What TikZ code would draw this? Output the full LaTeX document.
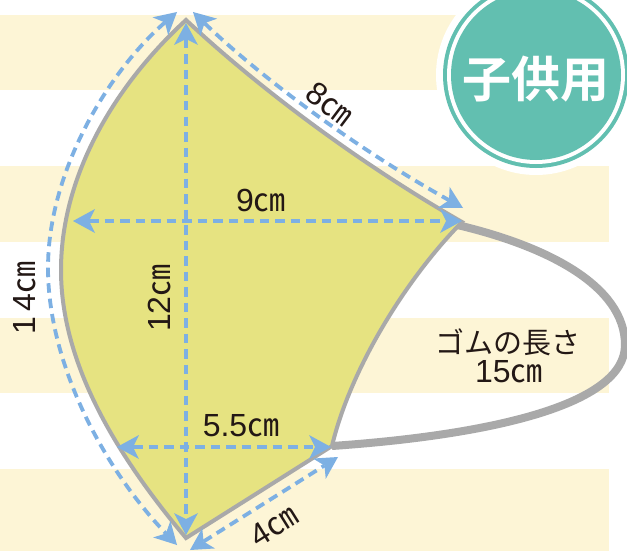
\documentclass[tikz,border=0pt]{standalone}
\usepackage{fontspec}
\setmainfont{Liberation Sans}
\newfontfamily\jpfont{Noto Sans CJK JP}
\newfontfamily\jpbold{Noto Sans CJK JP Bold}
\usetikzlibrary{arrows.meta}
\definecolor{stripe}{HTML}{FDF5D6}
\definecolor{maskfill}{HTML}{E6E381}
\definecolor{maskline}{HTML}{A9A9A9}
\definecolor{teal}{HTML}{62BFB0}
\definecolor{dim}{HTML}{7DB0E3}
\definecolor{ink}{HTML}{231815}
\newcommand{\cmu}{{\jpfont ㎝}}
\tikzset{
  stripeband/.style={fill=stripe,draw=none},
  maskshape/.style={fill=maskfill,draw=maskline,line width=4pt,line join=miter,miter limit=10},
  band/.style={draw=maskline,line width=8pt,line cap=butt},
  dimline/.style={draw=dim,line width=3.8pt,dash pattern=on 9.5pt off 6pt,
    {Stealth[inset=6pt,length=22pt,width=24pt,line width=0pt]}-{Stealth[inset=6pt,length=22pt,width=24pt,line width=0pt]}},
  lab/.style={text=ink,font=\fontsize{32}{32}\selectfont,inner sep=0pt},
  jplab/.style={text=ink,font=\jpfont\fontsize{29}{29}\selectfont,inner sep=0pt},
}
\begin{document}
\begin{tikzpicture}[x=1pt,y=-1pt]
\useasboundingbox (0,0) rectangle (627,551);
\fill[white] (0,0) rectangle (627,551);
% stripes
\fill[stripeband] (0,15) rectangle (480,90);
\fill[stripeband] (0,166) rectangle (609,242);
\fill[stripeband] (0,318) rectangle (609,393);
\fill[stripeband] (0,469) rectangle (609,551);
% badge
\fill[white] (536,75) circle (100);
\fill[teal] (536,75) circle (93);
\fill[white] (536,75) circle (89);
\fill[teal] (536,75) circle (85);
\node[text=white,font=\jpbold\fontsize{49}{49}\selectfont,inner sep=0pt] (badge) at (536,79) {子供用};
% named corners
\coordinate (T) at (186,20);
\coordinate (R) at (462,222);
\coordinate (Rb) at (453,224);
\coordinate (LR) at (332,446);
\coordinate (B) at (186,538);
% elastic
\draw[band] (Rb) .. controls (545,245) and (625,285) .. (625,345)
  .. controls (625,405) and (490,435) .. (LR);
% mask
\draw[maskshape] (T) .. controls (250,80) and (350,158) .. (R)
  .. controls (405,280) and (350,370) .. (LR)
  -- (B)
  .. controls (112,450) and (61,360) .. (61,270)
  .. controls (61,180) and (110,90) .. (T) -- cycle;
% dims
\coordinate (H9a) at (73,221);
\coordinate (H9b) at (462,221);
\coordinate (V12a) at (186,23);
\coordinate (V12b) at (186,535);
\coordinate (H5a) at (117,447);
\coordinate (H5b) at (331,447);
\coordinate (T8a) at (193,12);
\coordinate (T8b) at (463,208);
\coordinate (B4a) at (190,550);
\coordinate (B4b) at (338,457);
\coordinate (L14a) at (177,12);
\coordinate (L14b) at (177,545);
\draw[dimline] (H9a) -- (H9b);
\draw[dimline] (V12a) -- (V12b);
\draw[dimline] (H5a) -- (H5b);
\draw[dimline] (T8a) .. controls (255,72) and (350,145) .. (T8b);
\draw[dimline] (B4a) -- (B4b);
\draw[dimline] (L14a) .. controls (110,70) and (48,170) .. (48,268)
  .. controls (48,365) and (105,470) .. (L14b);
% labels
\node[lab,rotate=-37] (l8) at (330,104) {8\cmu};
\node[lab] (l9) at (261,201) {9\cmu};
\node[lab,rotate=90] (l12) at (160,298) {12\cmu};
\node[lab,rotate=90] (l14) at (25,298) {1\,4\cmu};
\node[lab] (l55) at (241,426) {5.5\cmu};
\node[lab,rotate=32] (l4) at (274,526) {4\cmu};
\node[jplab] (g1) at (508,342) {ゴムの長さ};
\node[lab] (g2) at (509,372) {15\cmu};
\end{tikzpicture}
\end{document}
